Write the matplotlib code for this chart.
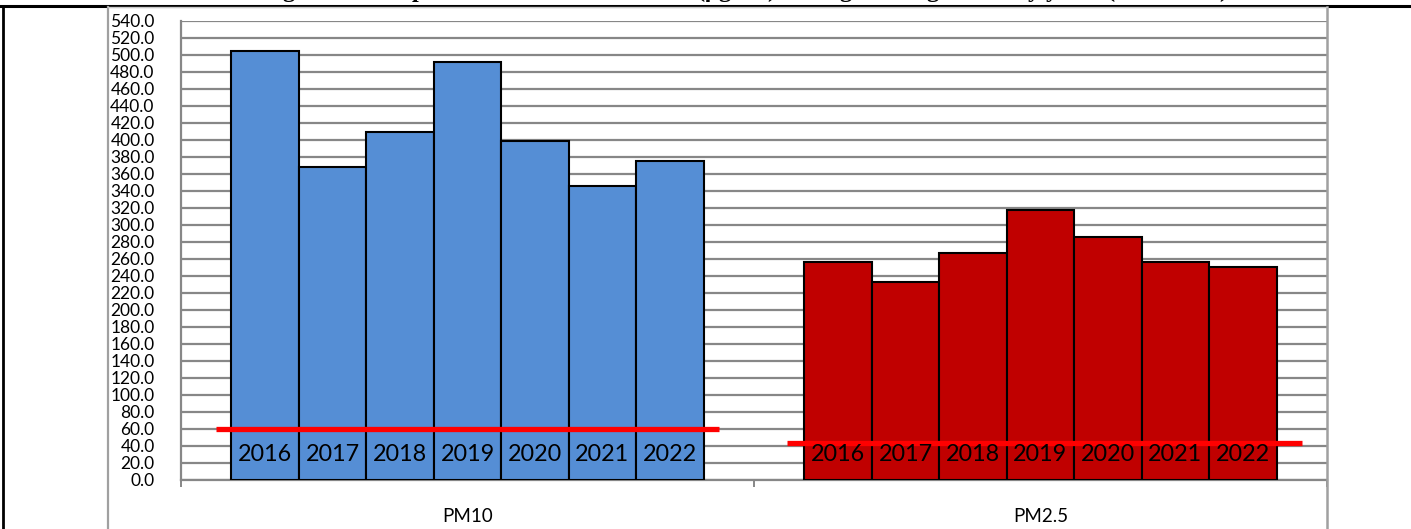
import matplotlib
matplotlib.use("Agg")
import matplotlib.pyplot as plt
from matplotlib.lines import Line2D

# values (µg/m3)
years = ["2016", "2017", "2018", "2019", "2020", "2021", "2022"]
pollutants = ["PM10", "PM2.5"]
pm10 = [504, 368, 409, 491, 398, 346, 375]
pm25 = [256, 233, 267, 318, 286, 256, 251]
limits = [60, 44]
yticks = list(range(0, 541, 20))
title = (r"Figure 3: Comparison of PM$_{\mathbf{2.5}}$ and PM$_{\mathbf{10}}$ "
         r"(µg/m$^{\mathbf{3}}$) average during the study years (2016-2022)")

W, H = 1411, 529
plt.rcParams["font.family"] = ["Lato", "DejaVu Sans"]
plt.rcParams["mathtext.fontset"] = "stix"

fig = plt.figure(figsize=(W / 100, H / 100), dpi=100)
fig.patch.set_facecolor("white")

def fx(x):
    return x / W

def fy(y):
    return 1 - y / H

grid_c = "#878787"

# table border and chart frame
fig.add_artist(Line2D([0, 1], [fy(5.5), fy(5.5)], color="black", lw=2.2, transform=fig.transFigure))
fig.add_artist(Line2D([fx(2.5), fx(2.5)], [fy(5.5), 0], color="black", lw=2.0, transform=fig.transFigure))
fig.add_artist(Line2D([fx(108), fx(108)], [fy(7), 0], color="#a0a0a0", lw=1.6, transform=fig.transFigure))
fig.add_artist(Line2D([fx(1326.5), fx(1326.5)], [fy(7), 0], color="#a0a0a0", lw=1.8, transform=fig.transFigure))
fig.add_artist(Line2D([fx(108), fx(1326.5)], [fy(7), fy(7)], color="#c8c8c8", lw=1.0, transform=fig.transFigure))

# title mostly cut off at the top of the picture, only descenders show
fig.text(fx(745), 1 + 3.0 / H, title, ha="center", va="baseline", fontsize=17.5,
         fontweight="bold", family="Liberation Serif", clip_on=False)

ax = fig.add_axes([fx(181), fy(480), fx(1327) - fx(181), fy(20.7) - fy(480)])
ax.set_xlim(-0.5, 1.5)
ax.set_ylim(0, 540)

bw = 0.1177
colors = ["#558ed5", "#c00000"]
series = [pm10, pm25]
for g, vals in enumerate(series):
    for i, v in enumerate(vals):
        x = g + (i - 3) * bw
        ax.bar(x, v, width=bw, color=colors[g], edgecolor="black", linewidth=1.5, zorder=3)
        ax.text(x, 29.5, years[i], ha="center", va="center", fontsize=16.8, color="black", zorder=6)

spans = [(-0.439, 0.439), (-0.442, 0.456)]
for g, lim in enumerate(limits):
    ax.hlines(lim, g + spans[g][0], g + spans[g][1], colors="#ff0000", linewidth=3.8, zorder=5)

ax.set_yticks(yticks)
ax.set_yticklabels([f"{v:.1f}" for v in yticks], fontsize=12.5)
ax.yaxis.grid(True, color=grid_c, linewidth=1.6)
ax.set_axisbelow(True)
ax.tick_params(axis="y", length=0, pad=19)

ax.set_xticks([0, 1])
ax.set_xticklabels(pollutants, fontsize=13.5)
ax.set_xticks([-0.5, 0.5, 1.5], minor=True)
ax.tick_params(axis="x", which="major", length=0, pad=20)
ax.tick_params(axis="x", which="minor", length=5, width=1.4, color=grid_c)

for s in ["top", "right"]:
    ax.spines[s].set_visible(False)
for s in ["left", "bottom"]:
    ax.spines[s].set_color(grid_c)
    ax.spines[s].set_linewidth(1.6)

fig.savefig("out.png", dpi=100)
